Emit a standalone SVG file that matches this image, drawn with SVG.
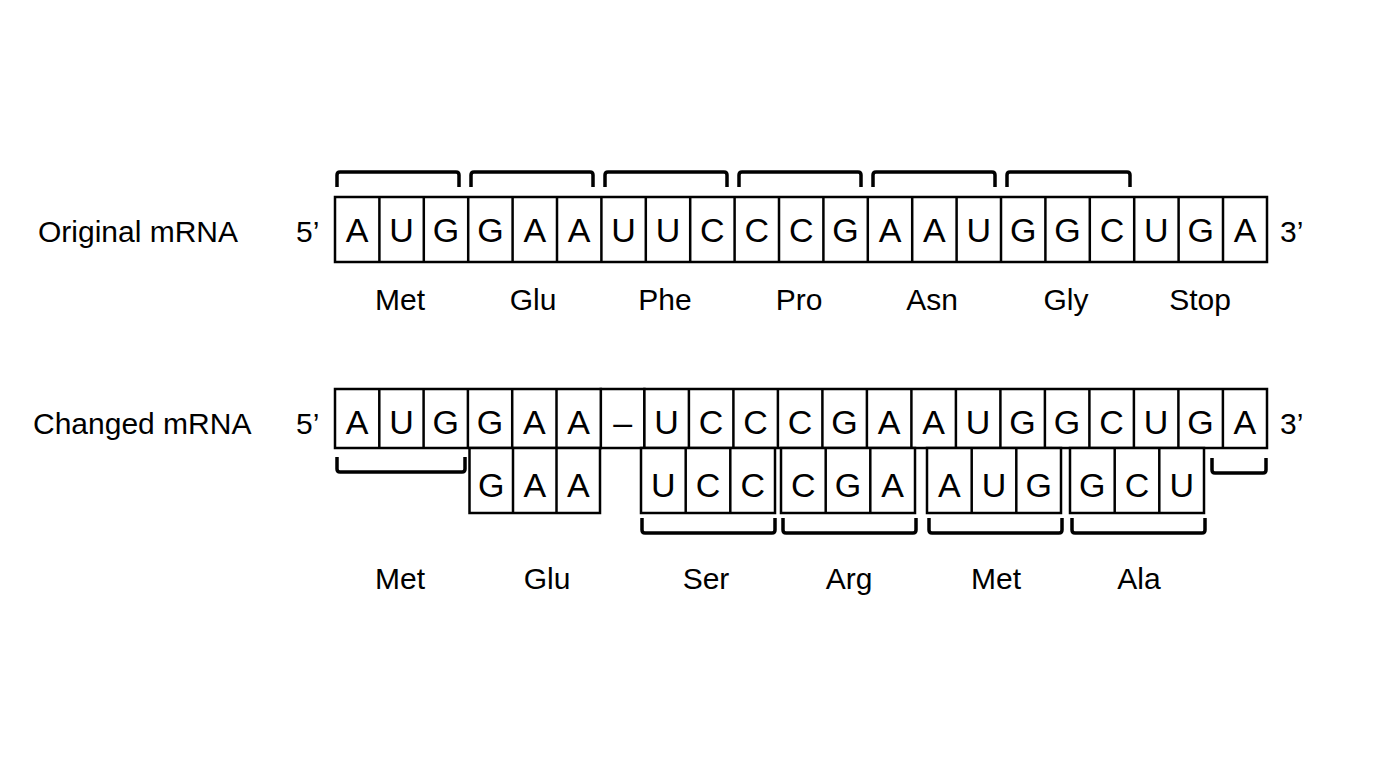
<svg xmlns="http://www.w3.org/2000/svg" width="1376" height="768" viewBox="0 0 1376 768">
<style>
text{font-family:"Liberation Sans",Arial,sans-serif;font-size:30px;fill:#000}
.b{font-size:34px;text-anchor:middle}
.l{text-anchor:middle}
.c{fill:#fff;stroke:#000;stroke-width:2.5}
.br{fill:none;stroke:#000;stroke-width:3.5;stroke-linejoin:round}
</style>
<rect width="1376" height="768" fill="#fff"/>
<g id="labels">
<text x="38" y="242">Original mRNA</text>
<text x="296" y="242">5’</text>
<text x="1280" y="242">3’</text>
<text x="33" y="434">Changed mRNA</text>
<text x="296" y="434">5’</text>
<text x="1280" y="434">3’</text>
</g>
<g id="original">
<rect class="c" x="335" y="197" width="932" height="65"/>
<g stroke="#000" stroke-width="2.5">
<path d="M379.4 197v65M423.8 197v65M468.2 197v65M512.6 197v65M557 197v65M601.4 197v65M645.8 197v65M690.2 197v65M734.6 197v65M779 197v65M823.4 197v65M867.8 197v65M912.2 197v65M956.6 197v65M1001 197v65M1045.4 197v65M1089.8 197v65M1134.2 197v65M1178.6 197v65M1223 197v65"/>
</g>
<g class="b">
<text class="b" x="357.2" y="242">A</text><text class="b" x="401.6" y="242">U</text><text class="b" x="446" y="242">G</text>
<text class="b" x="490.4" y="242">G</text><text class="b" x="534.8" y="242">A</text><text class="b" x="579.2" y="242">A</text>
<text class="b" x="623.6" y="242">U</text><text class="b" x="668" y="242">U</text><text class="b" x="712.4" y="242">C</text>
<text class="b" x="756.8" y="242">C</text><text class="b" x="801.2" y="242">C</text><text class="b" x="845.6" y="242">G</text>
<text class="b" x="890" y="242">A</text><text class="b" x="934.4" y="242">A</text><text class="b" x="978.8" y="242">U</text>
<text class="b" x="1023.2" y="242">G</text><text class="b" x="1067.6" y="242">G</text><text class="b" x="1112" y="242">C</text>
<text class="b" x="1156.4" y="242">U</text><text class="b" x="1200.8" y="242">G</text><text class="b" x="1245.2" y="242">A</text>
</g>
</g>
<g id="changed">
<rect class="c" x="600.8" y="389" width="43.6" height="59" stroke="#888" stroke-width="1.2"/>
<text class="b" x="622.6" y="434">–</text>
<rect class="c" x="335" y="389" width="265.8" height="59"/>
<rect class="c" x="644.4" y="389" width="622.6" height="59"/>
<g stroke="#000" stroke-width="2.5">
<path d="M379.3 389v59M423.6 389v59M467.9 389v59M512.2 389v59M556.5 389v59M688.9 389v59M733.4 389v59M777.9 389v59M822.4 389v59M866.9 389v59M911.4 389v59M955.9 389v59M1000.4 389v59M1044.9 389v59M1089.4 389v59M1133.9 389v59M1178.4 389v59M1222.9 389v59"/>
</g>
<text class="b" x="357.2" y="434">A</text><text class="b" x="401.5" y="434">U</text><text class="b" x="445.8" y="434">G</text>
<text class="b" x="490.1" y="434">G</text><text class="b" x="534.4" y="434">A</text><text class="b" x="578.7" y="434">A</text>
<text class="b" x="666.6" y="434">U</text><text class="b" x="711.1" y="434">C</text><text class="b" x="755.6" y="434">C</text>
<text class="b" x="800.1" y="434">C</text><text class="b" x="844.6" y="434">G</text><text class="b" x="889.1" y="434">A</text>
<text class="b" x="933.6" y="434">A</text><text class="b" x="978.1" y="434">U</text><text class="b" x="1022.6" y="434">G</text>
<text class="b" x="1067.1" y="434">G</text><text class="b" x="1111.6" y="434">C</text><text class="b" x="1156.1" y="434">U</text>
<text class="b" x="1200.6" y="434">G</text><text class="b" x="1244.9" y="434">A</text>
</g>
<g id="codons">
<rect class="c" x="469.5" y="448" width="130.5" height="65"/>
<path d="M513 448v65M556.5 448v65" stroke="#000" stroke-width="2.5"/>
<text class="b" x="491.3" y="497">G</text><text class="b" x="534.8" y="497">A</text><text class="b" x="578.3" y="497">A</text>
<rect class="c" x="641" y="448" width="134" height="65"/>
<path d="M685.7 448v65M730.3 448v65" stroke="#000" stroke-width="2.5"/>
<text class="b" x="663.3" y="497">U</text><text class="b" x="708" y="497">C</text><text class="b" x="752.7" y="497">C</text>
<rect class="c" x="781" y="448" width="134" height="65"/>
<path d="M825.7 448v65M870.3 448v65" stroke="#000" stroke-width="2.5"/>
<text class="b" x="803.3" y="497">C</text><text class="b" x="848" y="497">G</text><text class="b" x="892.7" y="497">A</text>
<rect class="c" x="927" y="448" width="134" height="65"/>
<path d="M971.7 448v65M1016.3 448v65" stroke="#000" stroke-width="2.5"/>
<text class="b" x="949.3" y="497">A</text><text class="b" x="994" y="497">U</text><text class="b" x="1038.7" y="497">G</text>
<rect class="c" x="1070" y="448" width="134" height="65"/>
<path d="M1114.7 448v65M1159.3 448v65" stroke="#000" stroke-width="2.5"/>
<text class="b" x="1092.3" y="497">G</text><text class="b" x="1137" y="497">C</text><text class="b" x="1181.7" y="497">U</text>
</g>
<g id="connectors" class="br">
<path class="br" d="M337 187v-12q0-3 3-3h116q3 0 3 3v12"/>
<path class="br" d="M471 187v-12q0-3 3-3h116q3 0 3 3v12"/>
<path class="br" d="M605 187v-12q0-3 3-3h116q3 0 3 3v12"/>
<path class="br" d="M739 187v-12q0-3 3-3h116q3 0 3 3v12"/>
<path class="br" d="M873 187v-12q0-3 3-3h116q3 0 3 3v12"/>
<path class="br" d="M1007 187v-12q0-3 3-3h117q3 0 3 3v12"/>
<path class="br" d="M337 457v12q0 3 3 3h122q3 0 3-3v-12"/>
<path class="br" d="M1212 458v12q0 3 3 3h48q3 0 3-3v-12"/>
<path class="br" d="M642 518v12q0 3 3 3h127q3 0 3-3v-12"/>
<path class="br" d="M783 518v12q0 3 3 3h127q3 0 3-3v-12"/>
<path class="br" d="M929 518v12q0 3 3 3h127q3 0 3-3v-12"/>
<path class="br" d="M1072 518v12q0 3 3 3h127q3 0 3-3v-12"/>
</g>
<g id="aminoacids">
<text class="l" x="400" y="310">Met</text><text class="l" x="533" y="310">Glu</text><text class="l" x="665" y="310">Phe</text>
<text class="l" x="799" y="310">Pro</text><text class="l" x="932" y="310">Asn</text><text class="l" x="1066" y="310">Gly</text><text class="l" x="1200" y="310">Stop</text>
<text class="l" x="400" y="589">Met</text><text class="l" x="547" y="589">Glu</text><text class="l" x="706" y="589">Ser</text>
<text class="l" x="849" y="589">Arg</text><text class="l" x="996" y="589">Met</text><text class="l" x="1139" y="589">Ala</text>
</g>
</svg>
